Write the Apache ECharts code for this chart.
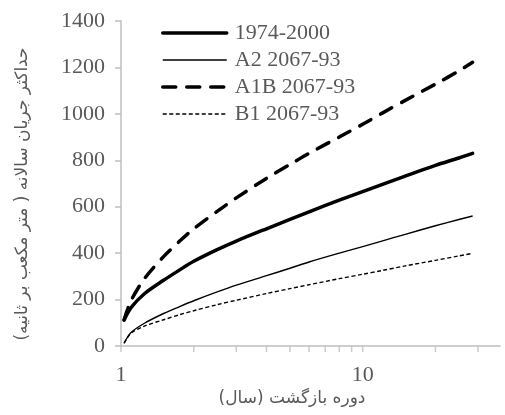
<!DOCTYPE html>
<html>
<head>
<meta charset="utf-8">
<script src="https://cdn.jsdelivr.net/npm/echarts@6/dist/echarts.min.js"></script>
<style>
html,body{margin:0;padding:0;background:#fff;}
#chart{width:505px;height:415px;}
</style>
</head>
<body>
<div id="chart"></div>
<script>
// Return periods (years)
var returnPeriods = [1.03, 1.1, 1.25, 1.5, 1.75, 2, 2.5, 3, 4, 5, 6, 8, 10, 12, 15, 20, 25, 28.5];
// Annual maximum discharge (m3/s)
var obs1974_2000 = [112, 165, 225, 283, 328, 365, 415, 452, 505, 545, 578, 628, 665, 695, 732, 778, 810, 830];
var a2_2067_93   = [12, 58, 98, 140, 170, 195, 233, 262, 303, 335, 362, 400, 428, 452, 481, 518, 545, 560];
var a1b_2067_93  = [112, 195, 290, 385, 452, 505, 580, 638, 722, 782, 830, 900, 955, 1002, 1058, 1128, 1185, 1222];
var b1_2067_93   = [12, 55, 86, 113, 135, 152, 178, 197, 226, 247, 264, 290, 309, 325, 345, 369, 388, 399];
var seriesNames = ['1974-2000', 'A2 2067-93', 'A1B 2067-93', 'B1 2067-93'];
var xTickValues = [1, 2, 3, 4, 5, 6, 7, 8, 9, 10, 20, 30];
var xLabelValues = [1, 10];
var yTitle = 'حداکثر جریان سالانه ( متر مکعب بر ثانیه)';
var xTitle = 'دوره بازگشت (سال)';

function pairs(vals) {
  return returnPeriods.map(function (t, i) { return [t, vals[i]]; });
}
var RLM = '\u200F';
var axisColor = '#bfbfbf';
var textColor = '#595959';
var serif = '"Liberation Serif", "DejaVu Serif", serif';
var persian = '"DejaVu Sans", "Noto Sans", sans-serif';

var chart = echarts.init(document.getElementById('chart'), null, {renderer: 'canvas'});
var option = {
  animation: false,
  backgroundColor: '#fff',
  grid: {left: 121, right: 5, top: 21, bottom: 69, containLabel: false},
  legend: {
    data: seriesNames,
    orient: 'vertical',
    left: 156,
    top: 17,
    itemWidth: 64,
    itemHeight: 14,
    itemGap: 5,
    itemStyle: {opacity: 0},
    lineStyle: {width: 'inherit'},
    textStyle: {fontFamily: serif, fontSize: 22, color: textColor, lineHeight: 22, padding: [0, 0, 0, 3]}
  },
  xAxis: {
    type: 'log',
    logBase: 10,
    min: 1,
    max: 37,
    axisLine: {show: true, lineStyle: {color: axisColor, width: 1.5}},
    axisTick: {show: false},
    splitLine: {show: false},
    minorTick: {show: false},
    axisLabel: {
      margin: 18,
      fontFamily: serif,
      fontSize: 22,
      color: textColor,
      showMinLabel: true,
      showMaxLabel: false,
      formatter: function (v) {
        for (var i = 0; i < xLabelValues.length; i++) {
          if (Math.abs(v - xLabelValues[i]) < 1e-6) return String(xLabelValues[i]);
        }
        return '';
      }
    }
  },
  yAxis: {
    type: 'value',
    min: 0,
    max: 1400,
    interval: 200,
    axisLine: {show: true, lineStyle: {color: axisColor, width: 1.5}},
    axisTick: {show: true, inside: false, length: 6, lineStyle: {color: axisColor, width: 1.5}},
    splitLine: {show: false},
    axisLabel: {
      margin: 16, fontFamily: serif, fontSize: 22, color: textColor,
      formatter: function (v) { return String(v); }
    }
  },
  graphic: [
    {
      type: 'text',
      x: 23, y: 194,
      rotation: Math.PI / 2,
      style: {
        text: RLM + yTitle + RLM,
        fontFamily: persian,
        fontSize: 17,
        fill: textColor,
        align: 'center',
        verticalAlign: 'middle'
      }
    },
    {
      type: 'text',
      x: 292, y: 399,
      style: {
        text: RLM + xTitle + RLM,
        fontFamily: persian,
        fontSize: 17,
        fill: textColor,
        align: 'center',
        verticalAlign: 'middle'
      }
    }
  ],
  series: [
    {
      name: 'ticks',
      type: 'scatter',
      data: xTickValues.map(function (t) { return [t, 0]; }),
      symbol: 'rect',
      symbolSize: [1.5, 6],
      symbolOffset: [0, 3],
      itemStyle: {color: axisColor},
      silent: true,
      clip: false,
      z: 1
    },
    {
      name: seriesNames[0], type: 'line', data: pairs(obs1974_2000), smooth: 0.3,
      showSymbol: false, symbol: 'none', symbolSize: 0, color: '#000',
      lineStyle: {color: '#000', width: 3.5, cap: 'round', join: 'round'}, z: 3
    },
    {
      name: seriesNames[1], type: 'line', data: pairs(a2_2067_93), smooth: 0.3,
      showSymbol: false, symbol: 'none', symbolSize: 0, color: '#000',
      lineStyle: {color: '#000', width: 1.4, join: 'round'}, z: 3
    },
    {
      name: seriesNames[2], type: 'line', data: pairs(a1b_2067_93), smooth: 0.3,
      showSymbol: false, symbol: 'none', symbolSize: 0, color: '#000',
      lineStyle: {color: '#000', width: 3.5, type: [13, 11], cap: 'round', join: 'round'}, z: 3
    },
    {
      name: seriesNames[3], type: 'line', data: pairs(b1_2067_93), smooth: 0.3,
      showSymbol: false, symbol: 'none', symbolSize: 0, color: '#000',
      lineStyle: {color: '#000', width: 1.4, type: [4, 2.5], join: 'round'}, z: 3
    }
  ]
};
chart.setOption(option);
</script>
</body>
</html>
